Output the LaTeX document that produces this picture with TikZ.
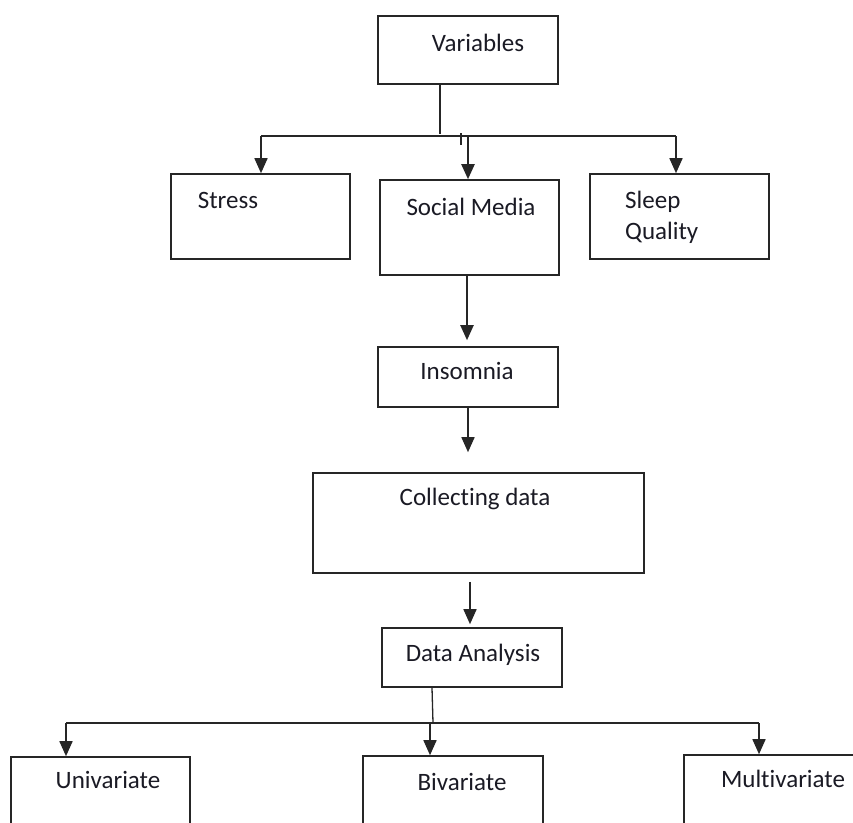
\documentclass[tikz,border=0pt]{standalone}
\usepackage{fontspec}
\setmainfont{Carlito}[RawFeature={-liga;-clig;-calt;-dlig}]
\usetikzlibrary{arrows.meta}
\definecolor{lc}{HTML}{262626}
\definecolor{tc}{HTML}{1A1A24}
\tikzset{
  box/.style={draw=lc, line width=1.6pt, inner sep=0pt, fill=white},
  lbl/.style={text=tc, inner sep=0pt, font=\fontsize{25}{30}\selectfont, text height=16pt, text depth=0pt},
  conn/.style={draw=lc, line width=1.6pt},
  arr/.style={conn, -{Triangle[length=15pt,width=13pt]}},
}
\begin{document}
\begin{tikzpicture}[x=1pt,y=1pt]
\useasboundingbox (0,0) rectangle (853,-822);
\clip (0,0) rectangle (853,-822);
\fill[white] (0,0) rectangle (853,-822);
% boxes
\node[box, minimum width=180pt, minimum height=68pt] (var) at (468,-50) {};
\node[box, minimum width=179pt, minimum height=85pt] (stress) at (260.5,-216.5) {};
\node[box, minimum width=179pt, minimum height=95pt] (social) at (469.5,-227.5) {};
\node[box, minimum width=179pt, minimum height=85pt] (sleep) at (679.5,-216.5) {};
\node[box, minimum width=180pt, minimum height=60pt] (insom) at (468,-377) {};
\node[box, minimum width=331pt, minimum height=100pt] (coll) at (478.5,-523) {};
\node[box, minimum width=180pt, minimum height=59pt] (da) at (472,-657.5) {};
\node[box, minimum width=179pt, minimum height=103pt] (uni) at (100.5,-808.5) {};
\node[box, minimum width=180pt, minimum height=104pt] (bi) at (453,-808) {};
\node[box, minimum width=180pt, minimum height=105pt] (multi) at (774,-807.5) {};
% labels
\node[lbl] (tvar) at (478,-43) {Variables};
\node[lbl] (tstress) at (228,-200) {Stress};
\node[lbl] (tsocial) at (471,-207) {Social Media};
\node[lbl, anchor=west] (tsleep) at (625,-200) {Sleep};
\node[lbl, anchor=west] (tqual) at (625,-231) {Quality};
\node[lbl] (tinsom) at (467,-371) {Insomnia};
\node[lbl] (tcoll) at (475,-497) {Collecting data};
\node[lbl] (tda) at (473,-653) {Data Analysis};
\node[lbl] (tuni) at (108,-780) {Univariate};
\node[lbl] (tbi) at (462,-782) {Bivariate};
\node[lbl] (tmulti) at (783,-779) {Multivariate};
% top connectors
\coordinate (tv) at (440,-134);
\coordinate (hl) at (261,-136);
\coordinate (hr) at (676,-136);
\coordinate (hm) at (468,-136);
\draw[conn] (var.south -| tv) -- (tv);
\draw[conn] (hl) -- (hr);
\draw[arr] (hl) -- (hl |- stress.north);
\draw[arr] (hr) -- (hr |- sleep.north);
\draw[arr, line width=2.2pt] (hm) -- (hm |- social.north);
\coordinate (tk1) at (461,-133);
\coordinate (tk2) at (461,-145);
\draw[conn, line width=1.2pt] (tk1) -- (tk2);
% middle chain
\coordinate (s1) at (467,-227);
\draw[arr, line width=2pt] (social.south -| s1) -- ([yshift=6pt]insom.north -| s1);
\coordinate (s2) at (468,-400);
\draw[arr] (insom.south -| s2) -- ([yshift=20pt]coll.north -| s2);
\coordinate (s3) at (470,-600);
\draw[arr] ([yshift=-8pt]coll.south -| s3) -- ([yshift=3pt]da.north -| s3);
% bottom connectors
\coordinate (bm) at (433,-723);
\coordinate (bl) at (66,-723);
\coordinate (br) at (759,-723);
\coordinate (bc) at (430,-723);
\draw[conn, line width=1.3pt] ([xshift=-40pt]da.south) -- (bm);
\draw[conn] (bl) -- (br);
\draw[arr] (bl) -- (bl |- uni.north);
\draw[arr] (bc) -- (bc |- bi.north);
\draw[arr] (br) -- (br |- multi.north);
\end{tikzpicture}
\end{document}
